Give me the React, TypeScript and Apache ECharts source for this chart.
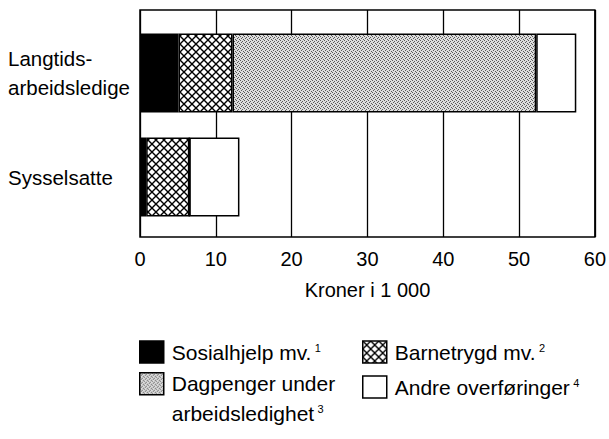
import React, { useEffect, useRef } from 'react';
import * as echarts from 'echarts';

const categories = ['Langtids-\narbeidsledige', 'Sysselsatte'];
const sosialhjelp = [5.0, 0.8];
const barnetrygd = [7.0, 5.6];
const dagpenger = [39.4, 0];
const andre = [5.2, 6.5];
const xMin = 0;
const xMax = 60;
const xInterval = 10;
const axisName = 'Kroner i 1 000';
const seriesNames = ['Sosialhjelp mv.', 'Barnetrygd mv.', 'Dagpenger under arbeidsledighet', 'Andre overføringer'];
const legendLines = [['Sosialhjelp mv.'], ['Barnetrygd mv.'], ['Dagpenger under', 'arbeidsledighet'], ['Andre overføringer']];
const footnotes = ['1', '2', '3', '4'];

const FONT = "'Liberation Sans', Arial, Helvetica, sans-serif";

function makeCross(): HTMLCanvasElement {
  const c = document.createElement('canvas');
  c.width = 8;
  c.height = 8;
  const ctx = c.getContext('2d')!;
  ctx.fillStyle = '#fff';
  ctx.fillRect(0, 0, 8, 8);
  ctx.strokeStyle = '#000';
  ctx.lineWidth = 1.4;
  ctx.beginPath();
  ctx.moveTo(-1, -1);
  ctx.lineTo(9, 9);
  ctx.moveTo(9, -1);
  ctx.lineTo(-1, 9);
  ctx.stroke();
  return c;
}

function makeDots(): HTMLCanvasElement {
  const c = document.createElement('canvas');
  c.width = 4;
  c.height = 4;
  const ctx = c.getContext('2d')!;
  ctx.fillStyle = '#dedede';
  ctx.fillRect(0, 0, 4, 4);
  ctx.fillStyle = '#5a5a5a';
  [[0, 0], [2, 1], [1, 2], [3, 3]].forEach(([x, y]) => ctx.fillRect(x, y, 1, 1));
  return c;
}

export default function App() {
  const ref = useRef<HTMLDivElement>(null);
  useEffect(() => {
    if (!ref.current) return;
    const chart = echarts.init(ref.current, undefined, { renderer: 'svg' });
    const cross = { image: makeCross(), repeat: 'repeat' } as any;
    const dots = { image: makeDots(), repeat: 'repeat' } as any;
    const colors: any[] = ['#000', cross, dots, '#fff'];
    const values = [sosialhjelp, barnetrygd, dagpenger, andre];
    const legendPos = [
      { left: 139, top: 341 },
      { left: 362, top: 341 },
      { left: 139, top: 376 },
      { left: 362, top: 376 },
    ];
    const LH = 30;
    chart.setOption({
      animation: false,
      backgroundColor: '#fff',
      textStyle: { fontFamily: FONT },
      grid: [
        { left: 140, right: 6.5, top: 10, height: 227, show: true, borderColor: '#000', borderWidth: 1.5, backgroundColor: '#fff', z: 0 },
        { left: 140, right: 6.5, top: 21, height: 208 },
      ],
      xAxis: [
        {
          gridIndex: 0, type: 'value', min: xMin, max: xMax, interval: xInterval,
          axisLine: { show: false }, axisTick: { show: false },
          splitLine: { show: true, lineStyle: { color: '#000', width: 1.3 } },
          axisLabel: { color: '#000', fontSize: 20, fontFamily: FONT, margin: 12 },
          name: axisName, nameLocation: 'middle', nameGap: 43,
          nameTextStyle: { color: '#000', fontSize: 20, fontFamily: FONT },
        },
        {
          gridIndex: 1, type: 'value', min: xMin, max: xMax, show: false,
        },
      ],
      yAxis: [
        { gridIndex: 0, type: 'value', show: false },
        {
          gridIndex: 1, type: 'category', data: categories, inverse: true,
          axisLine: { show: false }, axisTick: { show: false },
          axisLabel: { color: '#000', fontSize: 20.5, fontFamily: FONT, align: 'left', margin: 132, lineHeight: 29 },
        },
      ],
      legend: seriesNames.map((n, i) => {
        const lines = legendLines[i];
        const multi = lines.length > 1;
        return {
          data: [n],
          left: legendPos[i].left,
          top: legendPos[i].top - (LH - 22) / 2,
          padding: 0,
          itemWidth: 24,
          itemHeight: 22,
          icon: 'rect',
          selectedMode: false,
          itemStyle: { borderColor: '#000', borderWidth: 1.5 },
          formatter: () => lines.map((l, j) => (j === lines.length - 1 ? `{t|${l}} {s|${footnotes[i]}}` : `{t|${l}}`)).join('\n'),
          textStyle: {
            color: '#000',
            fontFamily: FONT,
            padding: multi ? [LH, 0, 0, 3] : [0, 0, 0, 3],
            rich: {
              t: { fontSize: 21, fontFamily: FONT, color: '#000', lineHeight: LH },
              s: { fontSize: 11, fontFamily: FONT, color: '#000', lineHeight: LH, verticalAlign: 'top', padding: [5, 0, 0, 0] },
            },
          },
        };
      }),
      series: seriesNames.map((n, i) => ({
        name: n,
        type: 'bar',
        stack: 'total',
        xAxisIndex: 1,
        yAxisIndex: 1,
        barWidth: '76%',
        data: values[i],
        itemStyle: { color: colors[i], borderColor: '#000', borderWidth: 1.5 },
        z: 3,
      })),
    });
    return () => chart.dispose();
  }, []);
  return <div ref={ref} style={{ position: 'fixed', left: 0, top: 0, width: 609, height: 439 }} />;
}
